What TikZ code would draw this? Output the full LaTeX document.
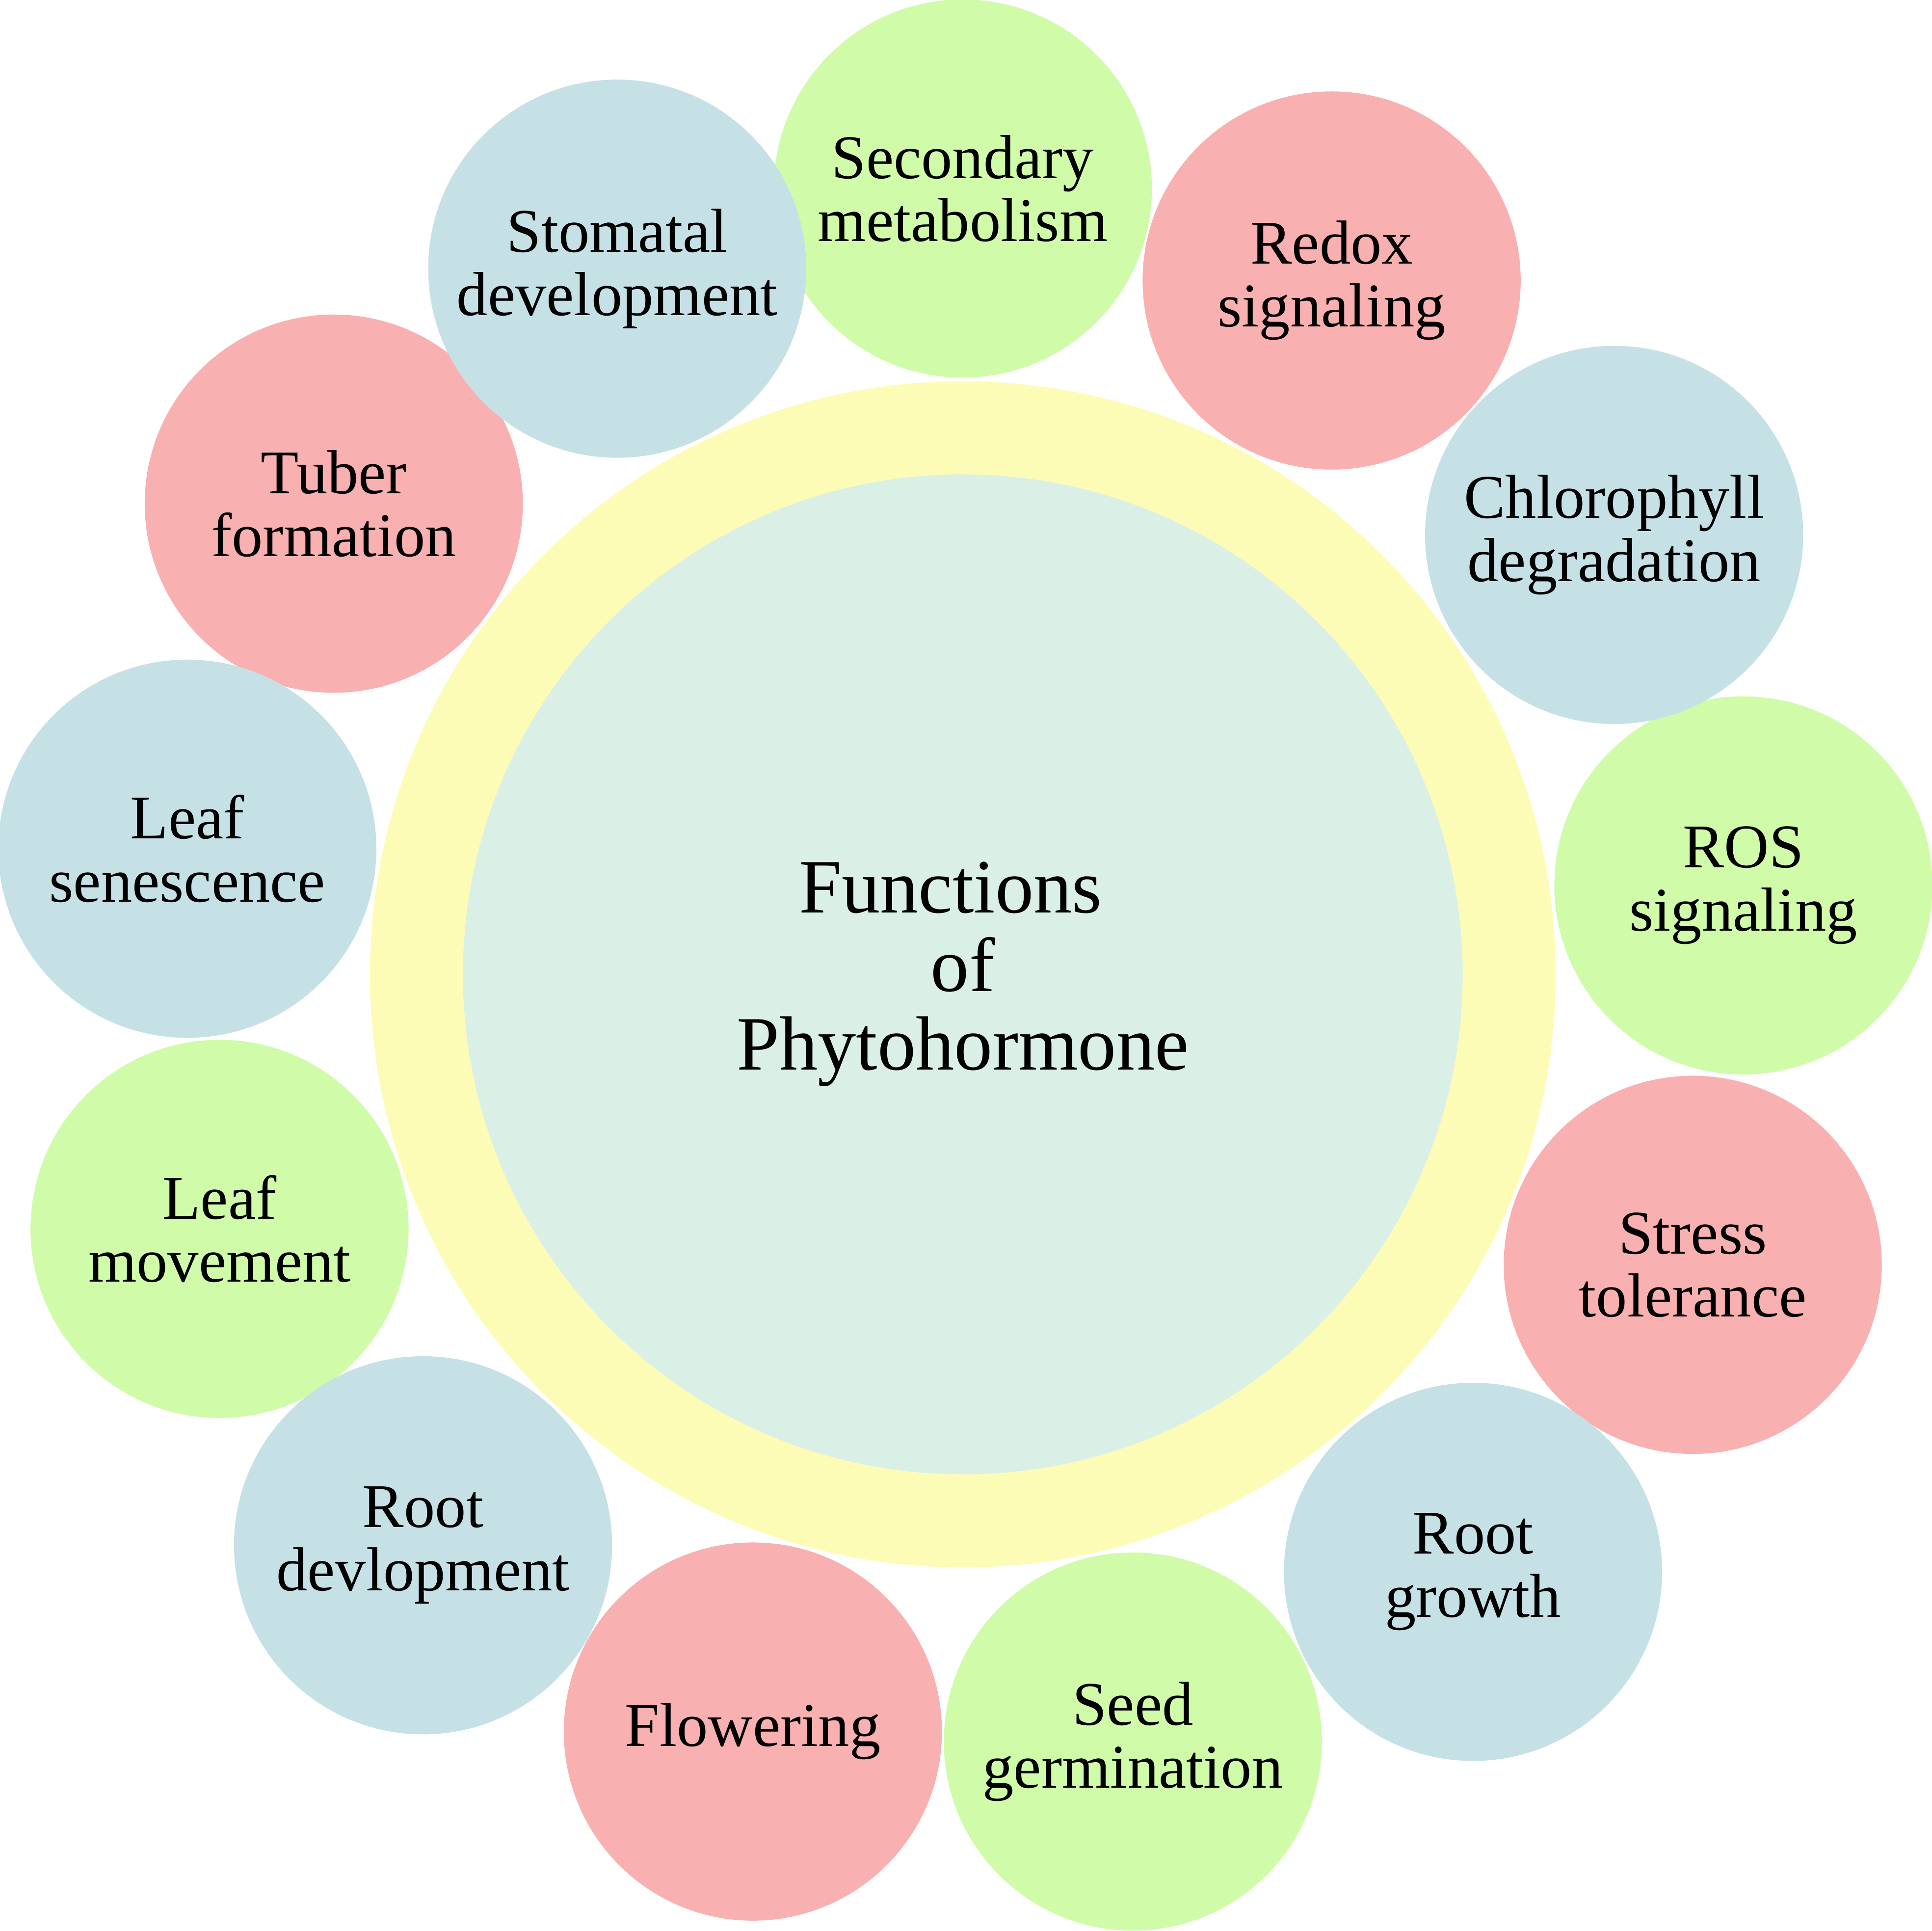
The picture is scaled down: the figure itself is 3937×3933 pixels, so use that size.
\documentclass[tikz,border=0pt]{standalone}
\usepackage{fontspec}
\setmainfont{Liberation Serif}
\definecolor{cred}{HTML}{F9B0B0}
\definecolor{cgreen}{HTML}{D0FCA9}
\definecolor{cblue}{HTML}{C5E1E6}
\definecolor{cyellow}{HTML}{FDFCB6}
\definecolor{cinner}{HTML}{DAF0E7}
\begin{document}
\begin{tikzpicture}[x=0.01cm,y=-0.01cm,
  bubble/.style={circle, minimum size=7.7cm, inner sep=0pt, align=center,
    font=\fontsize{36}{36.5}\selectfont},
  redb/.style={bubble, fill=cred},
  greenb/.style={bubble, fill=cgreen},
  blueb/.style={bubble, fill=cblue}]
\useasboundingbox (0,0) rectangle (3937,3933);
\coordinate (C) at (1962,1985);
\node[circle, fill=cyellow, minimum size=24.15cm, inner sep=0pt] (ring) at (C) {};
\node[circle, fill=cinner, minimum size=20.36cm, inner sep=0pt, align=center,
  font=\fontsize{44.5}{45.5}\selectfont] (core) at (C) {\hspace*{-0.5cm}Functions\\of\\Phytohormone};
% red
\node[redb] (redox) at ([shift={(62:16cm)}]C) {Redox\\signaling};
\node[redb] (stress) at ([shift={(-21.7:16cm)}]C) {Stress\\tolerance};
\node[redb] (flower) at ([shift={(-105.5:16cm)}]C) {Flowering};
\node[redb] (tuber) at ([shift={(143.2:16cm)}]C) {Tuber\\formation};
% green
\node[greenb] (secondary) at ([shift={(90:16cm)}]C) {Secondary\\metabolism};
\node[greenb] (ros) at ([shift={(6.5:16cm)}]C) {ROS\\signaling};
\node[greenb] (seed) at ([shift={(-77.5:16cm)}]C) {Seed\\germination};
\node[greenb] (leafmove) at ([shift={(-161.1:16cm)}]C) {Leaf\\movement};
% blue
\node[blueb] (chloro) at ([shift={(34:16cm)}]C) {Chlorophyll\\degradation};
\node[blueb] (rootgrowth) at ([shift={(-49.5:16cm)}]C) {Root\\growth};
\node[blueb] (rootdev) at ([shift={(-133.4:16cm)}]C) {Root\\devlopment};
\node[blueb] (leafsen) at ([shift={(170.8:16cm)}]C) {Leaf\\senescence};
\node[blueb] (stomatal) at ([shift={(116.1:16cm)}]C) {Stomatal\\development};
\end{tikzpicture}
\end{document}
